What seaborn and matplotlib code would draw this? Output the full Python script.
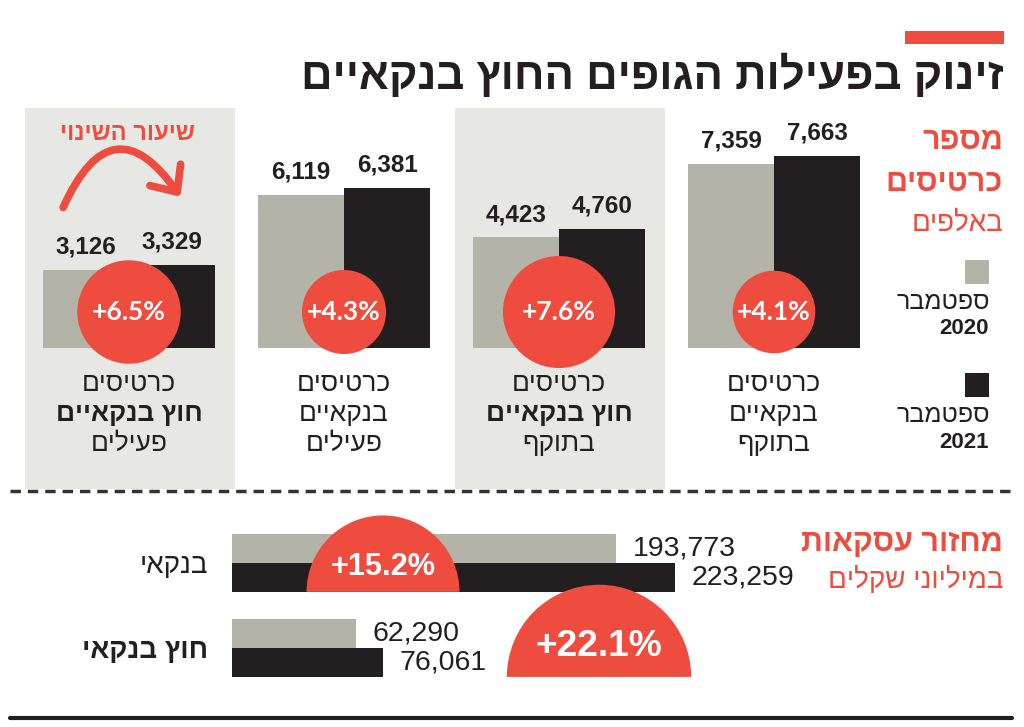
import numpy as np
import pandas as pd
import seaborn as sns
import matplotlib.pyplot as plt
from matplotlib.patches import Rectangle, Circle, Wedge, FancyArrowPatch

# number of cards (thousands), groups in page order left to right
card_groups = ["כרטיסים חוץ בנקאיים פעילים", "כרטיסים בנקאיים פעילים",
               "כרטיסים חוץ בנקאיים בתוקף", "כרטיסים בנקאיים בתוקף"]
card_lines = [["כרטיסים", "חוץ בנקאיים", "פעילים"],
              ["כרטיסים", "בנקאיים", "פעילים"],
              ["כרטיסים", "חוץ בנקאיים", "בתוקף"],
              ["כרטיסים", "בנקאיים", "בתוקף"]]
non_bank = [True, False, True, False]
cards_2020 = [3126, 6119, 4423, 7359]
cards_2021 = [3329, 6381, 4760, 7663]

# transaction turnover (NIS millions)
turnover_groups = ["בנקאי", "חוץ בנקאי"]
turnover_2020 = [193773, 62290]
turnover_2021 = [223259, 76061]

years = ["2020", "2021"]
month = "ספטמבר"
title = "זינוק בפעילות הגופים החוץ בנקאיים"

RED = "#ee4c3f"
GRAY = "#b3b3a8"
BLACK = "#231f20"
PANEL = "#e7e7e4"
W, H = 1024, 727


def heb(s):
    # matplotlib has no bidi support, so flip pure Hebrew strings
    return s[::-1]


sns.set_theme(style="white")
plt.rcParams["font.family"] = ["Liberation Sans", "DejaVu Sans"]
HEB = ["Liberation Sans", "DejaVu Sans"]

fig = plt.figure(figsize=(W / 100, H / 100), dpi=100)
fig.patch.set_facecolor("white")

# background layer and foreground layer in pixel coordinates
bg = fig.add_axes([0, 0, 1, 1], zorder=0)
fg = fig.add_axes([0, 0, 1, 1], zorder=5)
for a in (bg, fg):
    a.set_xlim(0, W)
    a.set_ylim(H, 0)
    a.axis("off")
    a.patch.set_alpha(0)

# ---- top: card counts ----
ax = fig.add_axes([0, (H - 348) / H, 1, 248 / H], zorder=2)
ax.patch.set_alpha(0)
cards = pd.DataFrame({
    "group": card_groups * 2,
    "year": [years[0]] * 4 + [years[1]] * 4,
    "value": cards_2020 + cards_2021,
})
sns.barplot(data=cards, x="group", y="value", hue="year", order=card_groups,
            hue_order=years, palette=[GRAY, BLACK], saturation=1, width=0.8,
            linewidth=0, errorbar=None, legend=False, ax=ax)
ax.set_xlim(-129 / 215, (W - 129) / 215)
ax.set_ylim(0, 248 / 0.02506)
ax.axis("off")
for cont in ax.containers:
    ax.bar_label(cont, labels=[f"{v:,.0f}" for v in cont.datavalues], padding=8,
                 fontsize=17.5, fontweight="bold", color=BLACK)


def to_px(a, x, y):
    dx, dy = a.transData.transform((x, y))
    return dx, H - dy


for i, (a0, a1) in enumerate(zip(cards_2020, cards_2021)):
    cx, base = to_px(ax, i, 0)
    if non_bank[i]:
        bg.add_patch(Rectangle((cx - 104, 108), 210, 381, color=PANEL, lw=0))
    pct = (a1 / a0 - 1) * 100
    r = 20.3 * np.sqrt(pct)
    cy = base - 36
    fg.add_patch(Circle((cx, cy), r, color=RED, lw=0))
    fg.text(cx, cy, f"+{pct:.1f}%", ha="center", va="center", color="white",
            fontsize=19, fontweight="bold", family=["Lato", "DejaVu Sans"])
    for j, line in enumerate(card_lines[i]):
        bold = non_bank[i] and j == 1
        fg.text(cx, 384 + 30 * j, heb(line), ha="center", va="center",
                fontsize=19, fontweight="bold" if bold else "normal",
                color=BLACK, family=HEB)

# change-rate arrow in first panel
fg.text(127, 133, heb("שיעור השינוי"), ha="center", va="center", color=RED,
        fontsize=17, fontweight="bold", family=HEB)
fg.add_patch(FancyArrowPatch((62, 210), (182, 199), connectionstyle="arc3,rad=-0.9",
                             arrowstyle="->,head_length=0.5,head_width=0.45",
                             mutation_scale=30, lw=5.5, color=RED, capstyle="round"))

# title block
bg.add_patch(Rectangle((905, 31), 99, 13, color=RED, lw=0))
fg.text(1004, 76, heb(title), ha="right", va="center", fontsize=31.5,
        fontweight="bold", color=BLACK, family=HEB)

# legend / unit block
fg.text(1003, 141, heb("מספר"), ha="right", va="center", color=RED,
        fontsize=22, fontweight="bold", family=HEB)
fg.text(1003, 183, heb("כרטיסים"), ha="right", va="center", color=RED,
        fontsize=22, fontweight="bold", family=HEB)
fg.text(1003, 224, heb("באלפים"), ha="right", va="center", color=RED,
        fontsize=20, family=HEB)
for k, (col, y0) in enumerate(zip([GRAY, BLACK], [260, 373])):
    bg.add_patch(Rectangle((965, y0), 24, 24, color=col, lw=0))
    fg.text(990, y0 + 42, heb(month), ha="right", va="center", color=BLACK,
            fontsize=18, family=HEB)
    fg.text(989, y0 + 69, years[k], ha="right", va="center", color=BLACK,
            fontsize=16, fontweight="bold")

# separators
fg.plot([10, 1012], [491, 491], color="#333333", lw=2.5, ls=(0, (3, 2)))
fg.plot([10, 1012], [718, 718], color=BLACK, lw=3)

# ---- bottom: turnover ----
ax2 = fig.add_axes([232 / W, (H - 700) / H, (W - 232) / W, 190 / H], zorder=2)
ax2.patch.set_alpha(0)
turn = pd.DataFrame({
    "group": turnover_groups * 2,
    "year": [years[0]] * 2 + [years[1]] * 2,
    "value": turnover_2020 + turnover_2021,
})
sns.barplot(data=turn, y="group", x="value", hue="year", order=turnover_groups,
            hue_order=years, palette=[GRAY, BLACK], saturation=1, width=0.68,
            linewidth=0, errorbar=None, legend=False, orient="h", ax=ax2)
ax2.set_xlim(0, (W - 232) / 0.001984)
ax2.set_ylim((700 - 563) / 85, (510 - 563) / 85)
sns.despine(ax=ax2, left=True, bottom=True)
ax2.set_xticks([])
ax2.set_xlabel("")
ax2.set_ylabel("")
ax2.set_yticks(range(len(turnover_groups)))
ax2.set_yticklabels([heb(g) for g in turnover_groups], fontsize=20, color=BLACK,
                    family=HEB)
ax2.get_yticklabels()[1].set_fontweight("bold")
ax2.tick_params(axis="y", length=0, pad=17)
for cont in ax2.containers:
    ax2.bar_label(cont, labels=[f"{v:,.0f}" for v in cont.datavalues], padding=12,
                  fontsize=20.5, color=BLACK)

semi_x = [383, 599]
for i, (a0, a1) in enumerate(zip(turnover_2020, turnover_2021)):
    pct = (a1 / a0 - 1) * 100
    r = 19.6 * np.sqrt(pct)
    _, bottom = to_px(ax2, 0, i + 0.34)
    fg.add_patch(Wedge((semi_x[i], bottom), r, 180, 360, color=RED, lw=0))
    fg.text(semi_x[i], bottom - 0.33 * r, f"+{pct:.1f}%", ha="center", va="center",
            color="white", fontsize=0.29 * r, fontweight="bold")

fg.text(1003, 543, heb("מחזור עסקאות"), ha="right", va="center", color=RED,
        fontsize=22, fontweight="bold", family=HEB)
fg.text(1003, 580, heb("במיליוני שקלים"), ha="right", va="center", color=RED,
        fontsize=20, family=HEB)

fig.savefig("out.png", dpi=100)
